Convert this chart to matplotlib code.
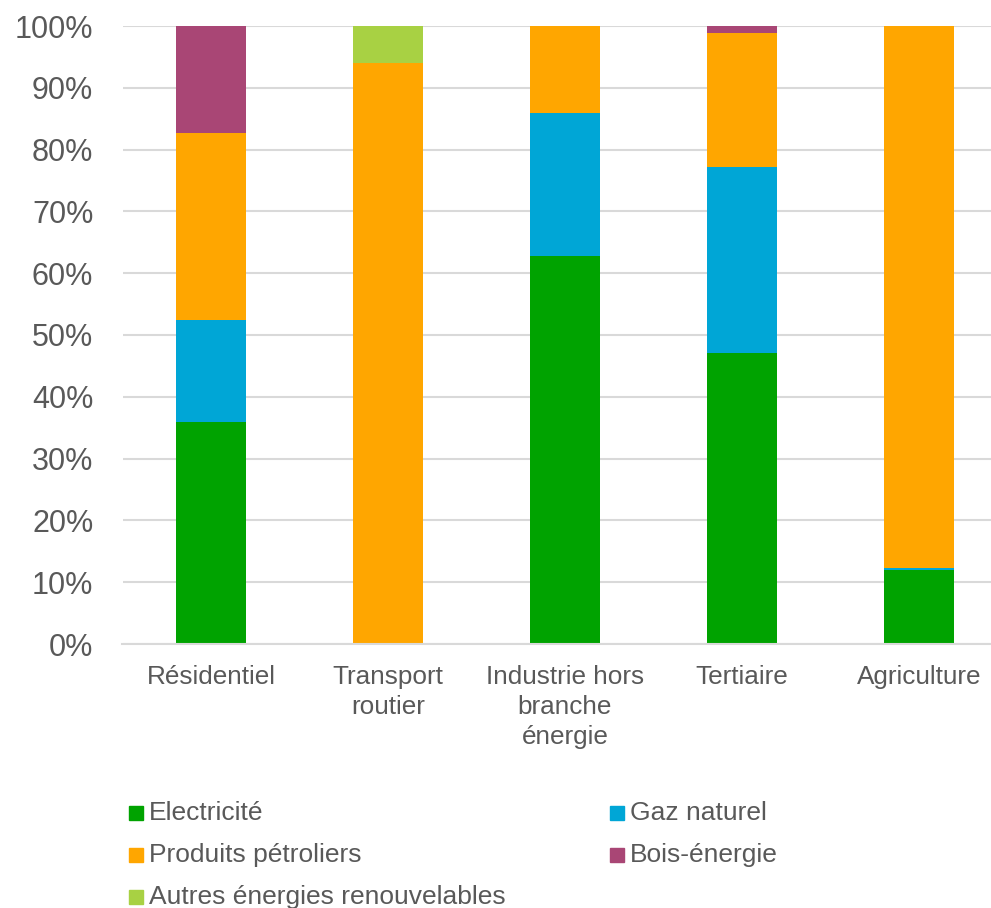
import matplotlib
matplotlib.use("Agg")
import matplotlib.pyplot as plt
from matplotlib.patches import Rectangle
import numpy as np

plt.rcParams['font.family'] = ['Liberation Sans', 'DejaVu Sans']

categories = ["Résidentiel", "Transport\nroutier", "Industrie hors\nbranche\nénergie",
              "Tertiaire", "Agriculture"]
series_names = ["Electricité", "Gaz naturel", "Produits pétroliers", "Bois-énergie",
                "Autres énergies renouvelables"]
electricite = [35.9, 0.0, 62.8, 47.1, 12.0]
gaz_naturel = [16.5, 0.0, 23.1, 30.1, 0.3]
produits_petroliers = [30.3, 94.0, 14.1, 21.7, 87.7]
bois_energie = [17.3, 0.0, 0.0, 1.1, 0.0]
autres_enr = [0.0, 6.0, 0.0, 0.0, 0.0]
yticks = [0, 10, 20, 30, 40, 50, 60, 70, 80, 90, 100]

colors = ["#00A300", "#00A6D6", "#FFA600", "#A94675", "#A8D143"]
series = [electricite, gaz_naturel, produits_petroliers, bois_energie, autres_enr]

W, H = 991, 908
fig = plt.figure(figsize=(W / 100, H / 100), dpi=100)
# axes extends slightly past the right edge of the canvas
ax = fig.add_axes([122.5 / W, (H - 644) / H, (1007.5 - 122.5) / W, (644 - 26) / H])

x = np.arange(len(categories))
bottom = np.zeros(len(categories))
for vals, col, name in zip(series, colors, series_names):
    v = np.array(vals)
    ax.bar(x, v, width=0.395, bottom=bottom, color=col, label=name, zorder=3,
           edgecolor='none')
    bottom += v

ax.set_xlim(-0.5, len(categories) - 0.5)
ax.set_ylim(0, 100)
ax.set_yticks(yticks)
ax.set_yticklabels([f"{t}%" for t in yticks])
ax.set_xticks(x)
ax.set_xticklabels(categories, linespacing=1.32)

ax.tick_params(axis='y', length=0, pad=21, labelsize=22, labelcolor='#595959')
ax.tick_params(axis='x', length=0, pad=15, labelsize=18.8, labelcolor='#595959')

ax.grid(axis='y', color='#D9D9D9', linewidth=1.5, zorder=0)
ax.set_axisbelow(True)
for s in ['top', 'right', 'left']:
    ax.spines[s].set_visible(False)
ax.spines['bottom'].set_color('#D9D9D9')
ax.spines['bottom'].set_linewidth(1.5)
ax.spines['bottom'].set_zorder(4)

# legend, laid out in two columns
legend_pos = [(129, 813), (610, 813), (129, 855), (610, 855), (129, 897)]
for (px, py), col, name in zip(legend_pos, colors, series_names):
    fig.patches.append(Rectangle((px / W, (H - py - 7) / H), 14 / W, 14 / H,
                                 transform=fig.transFigure, color=col))
    fig.text((px + 20) / W, (H - py) / H, name, fontsize=19, color='#595959',
             va='center', ha='left')

fig.savefig("out.png", dpi=100)
